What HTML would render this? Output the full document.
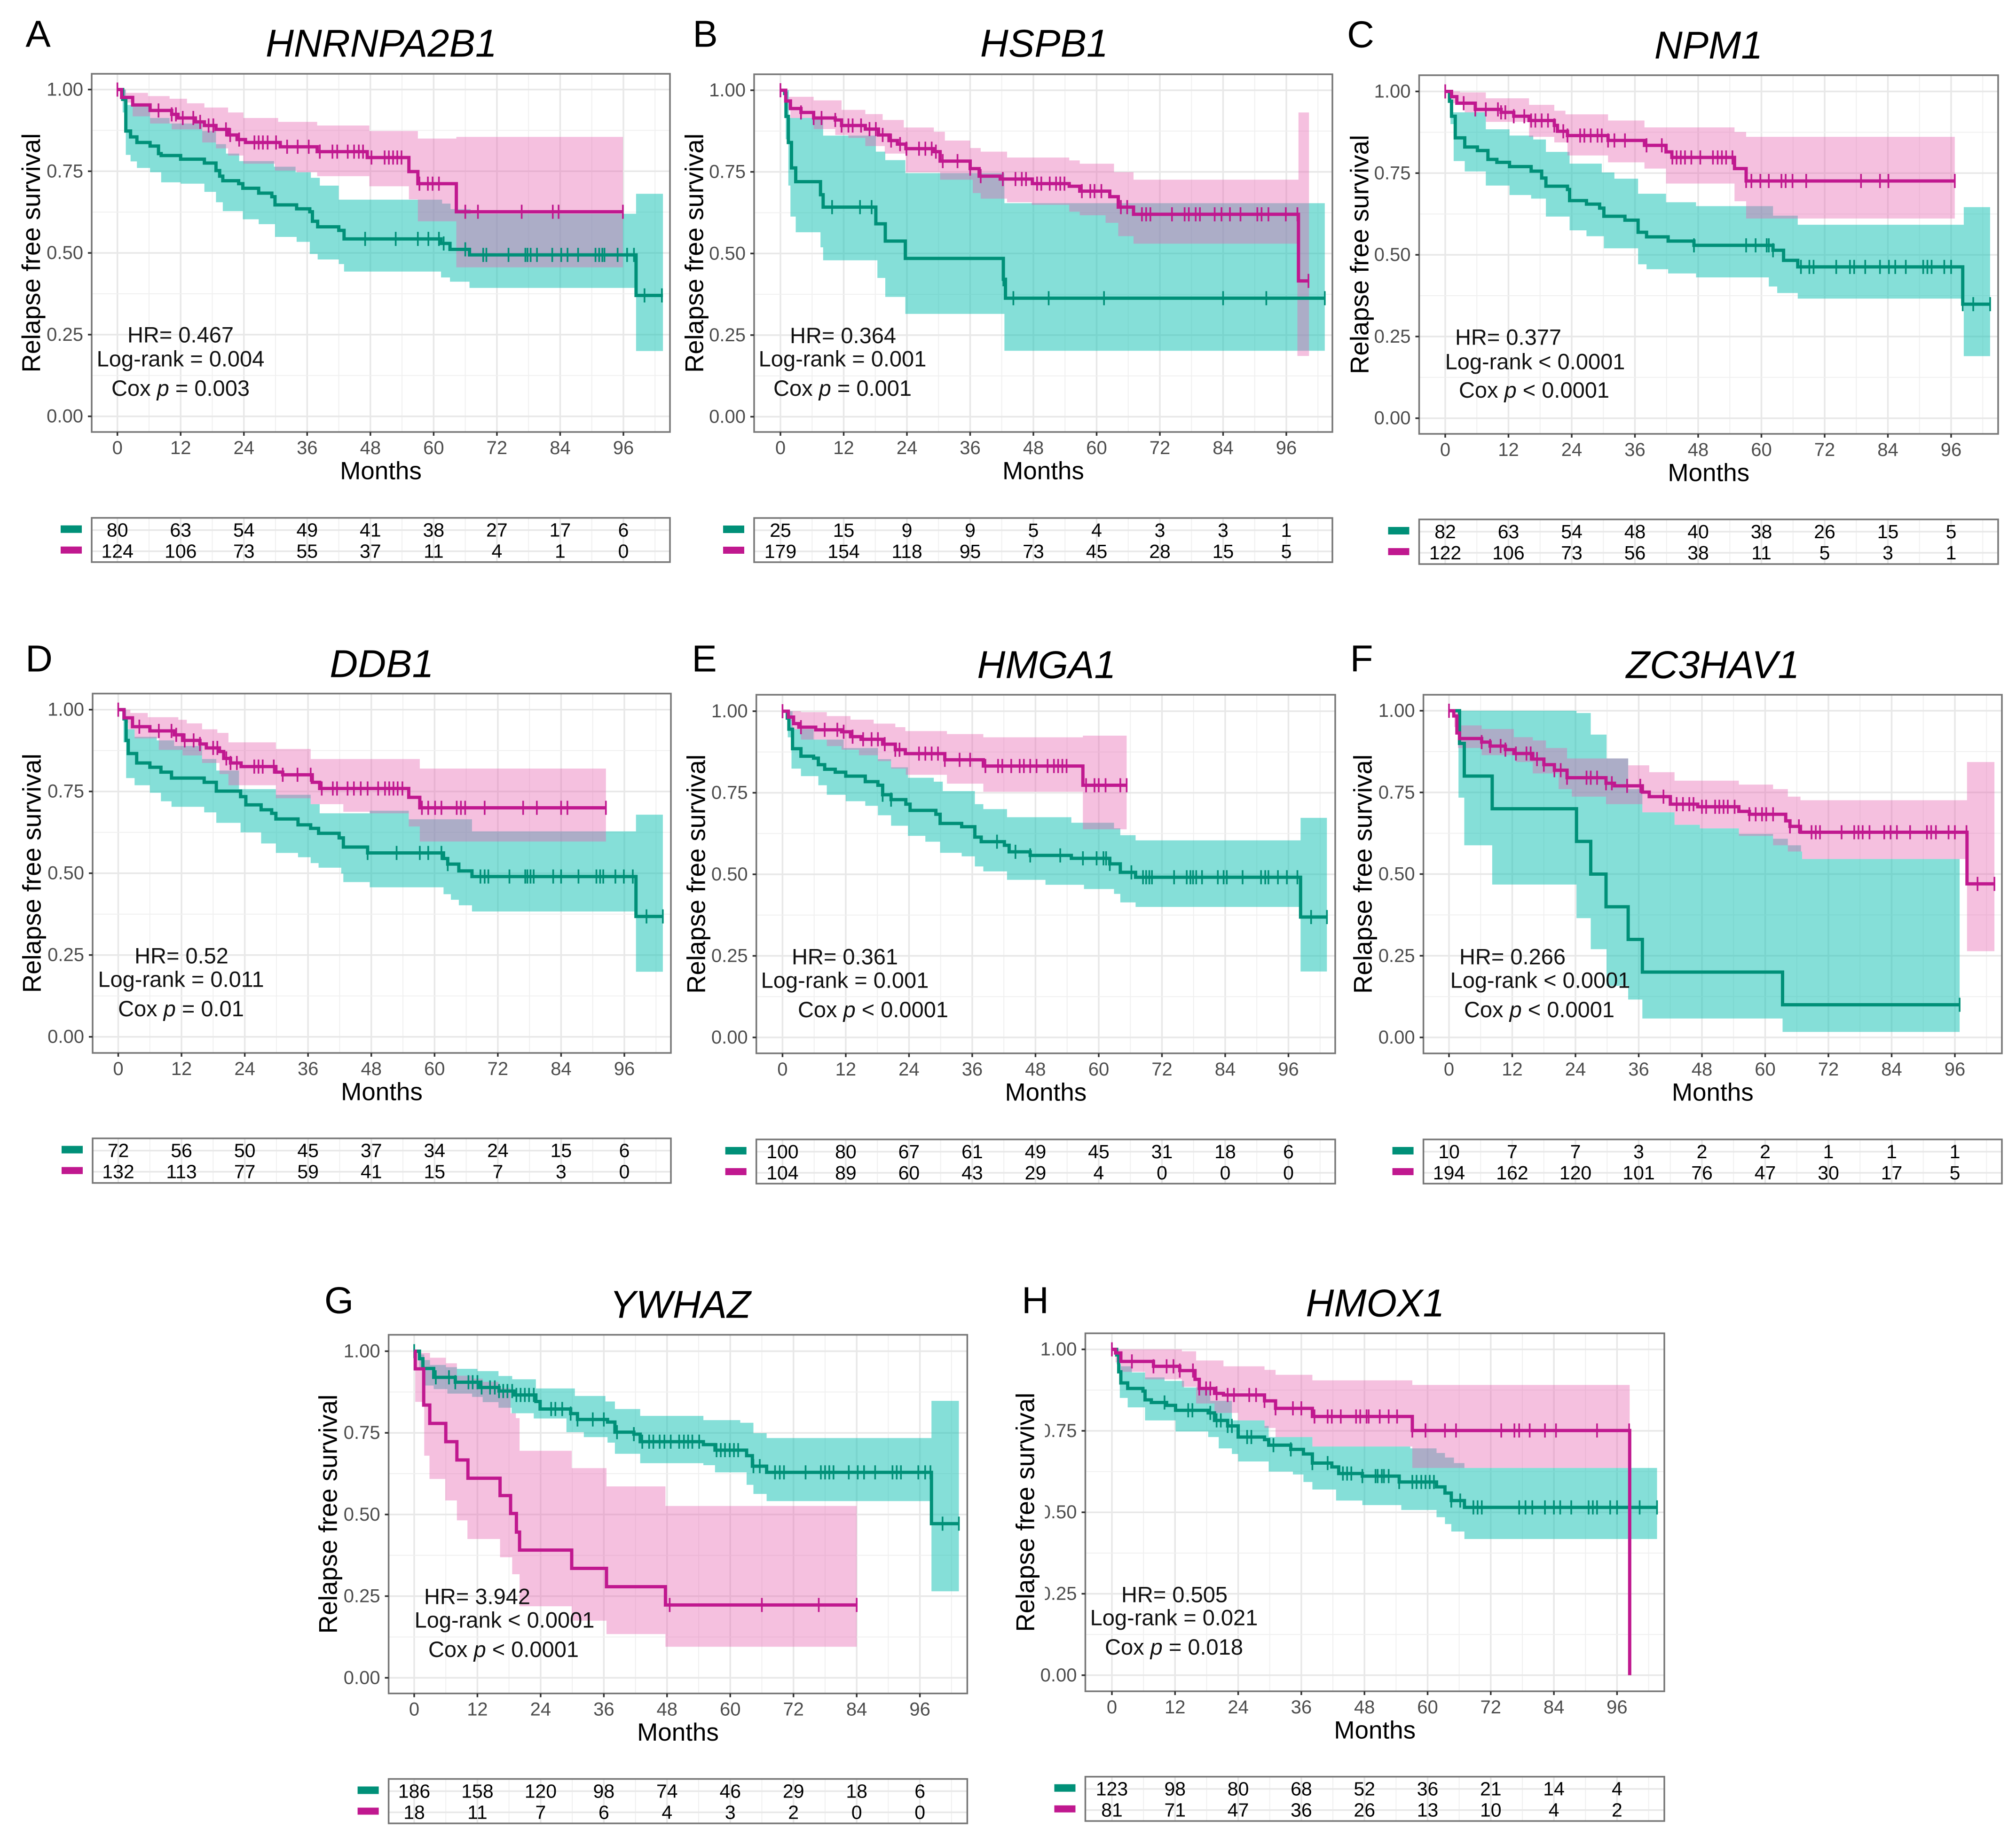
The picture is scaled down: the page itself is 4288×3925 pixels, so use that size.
<!DOCTYPE html>
<html lang="en">
<head>
<meta charset="utf-8">
<title>Kaplan-Meier relapse free survival panels</title>
<style>
html,body{margin:0;padding:0;background:#fff;}
svg{display:block;font-family:"Liberation Sans",Arial,sans-serif;}
</style>
</head>
<body>
<svg id="figure" xmlns="http://www.w3.org/2000/svg" width="4288" height="3925" viewBox="0 0 4288 3925"></svg>
<script>
// ---------- shared axis data ----------
const xTickLabels=[0,12,24,36,48,60,72,84,96];
const yTickLabels=['0.00','0.25','0.50','0.75','1.00'];
const genes=['HNRNPA2B1','HSPB1','NPM1','DDB1','HMGA1','ZC3HAV1','YWHAZ','HMOX1'];
const hrLabels=['HR= 0.467','HR= 0.364','HR= 0.377','HR= 0.52','HR= 0.361','HR= 0.266','HR= 3.942','HR= 0.505'];
const logrankLabels=['Log-rank = 0.004','Log-rank = 0.001','Log-rank < 0.0001','Log-rank = 0.011','Log-rank = 0.001','Log-rank < 0.0001','Log-rank < 0.0001','Log-rank = 0.021'];
const coxLabels=['= 0.003','= 0.001','< 0.0001','= 0.01','< 0.0001','< 0.0001','< 0.0001','= 0.018'];

// ---------- panel A ----------
const aTealRisk=[80,63,54,49,41,38,27,17,6];
const aPinkRisk=[124,106,73,55,37,11,4,1,0];
const aTealCurve=[[0,1],[1,.97],[1.6,.873],[2.5,.855],[3.7,.838],[6.2,.827],[7.8,.804],[8.3,.798],[12,.787],[16.5,.775],[18.7,.752],[19.4,.735],[20,.721],[23,.712],[23.8,.698],[26.8,.683],[29.3,.672],[29.9,.647],[34,.635],[36.5,.626],[37,.597],[38,.58],[42,.569],[43,.543],[61.4,.529],[63.1,.511],[66.8,.494],[98.4,.37],[103.5,.37]];
const aTealUpper=[[0,1],[1.6,.953],[6.2,.913],[9.9,.896],[16.1,.873],[18.7,.833],[20.6,.804],[23.1,.781],[29.7,.764],[33.8,.747],[36.7,.73],[38.4,.706],[42,.663],[61.6,.651],[63.2,.634],[67,.62],[98.4,.681],[103.5,.681]];
const aTealLower=[[0,1],[1,.93],[1.6,.8],[2.5,.78],[3.7,.76],[6.2,.747],[8.3,.716],[12,.712],[16.5,.687],[18.7,.655],[20,.628],[23.8,.603],[26.8,.588],[29.9,.549],[34,.534],[36.5,.497],[38,.48],[42,.466],[43,.443],[61.4,.425],[63.1,.412],[66.8,.393],[98.4,.2],[103.5,.2]];
const aTealCensor=[47,52.8,57,59,61,61.9,66,69.4,70,74.2,77.4,77.8,78.4,79.6,82.5,84.2,85.4,87.4,90.7,91.4,92,92.4,94.9,96.7,98,100,103.3];
const aPinkCurve=[[0,1],[.8,.976],[2.9,.953],[6.2,.936],[10.3,.924],[11.5,.913],[14.8,.901],[16.5,.89],[18.7,.878],[21,.861],[22.7,.847],[24.3,.838],[30.9,.825],[37.9,.81],[47.4,.792],[55.3,.749],[57,.712],[64.3,.626],[95.9,.626]];
const aPinkUpper=[[0,1],[1.6,.99],[5.8,.98],[9.9,.972],[13.2,.958],[16.5,.945],[21,.93],[23.9,.913],[30.5,.901],[37.9,.89],[47.8,.873],[57,.85],[64.3,.855],[95.9,.855]];
const aPinkLower=[[0,1],[1.2,.96],[2.9,.918],[6.2,.896],[10.3,.878],[16.1,.838],[18.7,.82],[21,.798],[23.9,.773],[29.9,.752],[34,.747],[37.9,.735],[47.8,.704],[55.3,.664],[57,.597],[64.3,.456],[95.9,.456]];
const aPinkCensor=[0,7.8,10.3,11.1,12.4,14.4,15.7,17.3,18.2,20.6,21.4,23.1,26,26.8,27.6,28.5,30.1,32.2,34.2,36.3,38.4,40.8,41.7,43.7,44.9,45.8,46.6,48.2,50.7,51.5,52.3,53.1,53.9,57.3,58.9,59.8,61,66,68.4,76.7,82.6,83.7,95.9];

// ---------- panel B ----------
const bTealRisk=[25,15,9,9,5,4,3,3,1];
const bPinkRisk=[179,154,118,95,73,45,28,15,5];
const bTealCurve=[[0,1],[.8,.99],[1.05,.92],[1.5,.84],[2.1,.762],[2.9,.72],[7.6,.68],[8.1,.642],[18.1,.591],[19.9,.538],[23.7,.485],[42.3,.421],[42.7,.363],[103.3,.363]];
const bTealUpper=[[0,1],[1.6,.915],[8.1,.861],[18.1,.812],[19.9,.786],[23.7,.746],[42.5,.654],[103.3,.654]];
const bTealLower=[[0,1],[1,.85],[1.5,.708],[1.9,.613],[2.9,.565],[7.6,.519],[8.1,.479],[18.4,.425],[19.9,.367],[23.7,.315],[42.5,.202],[103.3,.202]];
const bTealCensor=[9.8,15.1,17.3,42.3,44.2,50.9,61.4,84,92.2,103.3];
const bPinkCurve=[[0,1],[1,.967],[1.9,.944],[3.9,.932],[6.3,.915],[10.4,.909],[11.6,.892],[16.1,.881],[18.6,.863],[20.6,.846],[22.2,.835],[23.8,.821],[29.1,.812],[30.3,.783],[36,.76],[37.7,.737],[41.7,.728],[47.8,.714],[54.8,.706],[56.8,.691],[62.5,.674],[64.1,.642],[67,.62],[98.3,.416],[100.3,.416]];
const bPinkUpper=[[0,1],[1.5,.98],[6.3,.969],[11.6,.94],[16.1,.927],[19.4,.909],[23.4,.886],[29.1,.873],[31.2,.846],[36,.823],[38,.812],[43,.794],[54.8,.785],[56.8,.775],[63.3,.749],[67,.726],[98.3,.932],[100.3,.932]];
const bPinkLower=[[0,1],[1.5,.944],[1.9,.915],[6.3,.881],[10.4,.863],[12.9,.854],[16.1,.829],[19.8,.806],[23.8,.749],[30.3,.726],[36.5,.685],[38,.668],[43,.657],[47.7,.649],[54.8,.628],[56.8,.617],[61.7,.594],[64.1,.553],[67,.53],[98.1,.186],[100.3,.186]];
const bPinkCensor=[0,3.9,6.3,7.8,10.4,11.6,12.9,13.7,15.3,16.9,18.1,19.4,21,22.7,23.9,26.3,27.5,28.7,29.5,30.8,33.6,36,38,42.2,44.6,45.8,46.6,48.7,49.5,51.1,52.3,53.1,53.9,57.2,58.8,59.6,60.9,64.6,65.8,68.6,69.4,70.2,74.3,76.7,77.5,78.8,79.6,82.4,83.7,85.3,87.3,90.5,91.3,92.6,95.9,98.1,100.2];

// ---------- panel C ----------
const cTealRisk=[82,63,54,48,40,38,26,15,5];
const cPinkRisk=[122,106,73,56,38,11,5,3,1];
const cTealCurve=[[0,1],[.8,.97],[1.2,.924],[1.9,.858],[3.7,.83],[6.1,.819],[8.1,.792],[9.8,.783],[12.2,.77],[16.3,.756],[18.3,.735],[19.1,.71],[23.2,.7],[23.6,.666],[26.8,.655],[29.3,.643],[30.1,.618],[34.1,.606],[36.6,.569],[38.2,.555],[42.3,.542],[47.2,.529],[62.2,.514],[64.2,.483],[66.9,.463],[98.2,.349],[103.4,.349]];
const cTealUpper=[[0,1],[1.2,.936],[7.7,.884],[12.2,.865],[16.7,.853],[19.1,.815],[23.6,.779],[29.7,.752],[32.1,.733],[36.6,.687],[41.9,.661],[47.6,.649],[62.2,.62],[66.9,.592],[98.4,.646],[103.4,.646]];
const cTealLower=[[0,1],[1,.9],[1.6,.787],[3.7,.755],[7.7,.712],[12.2,.683],[16.3,.672],[19.1,.617],[23.6,.575],[26.8,.557],[30.1,.52],[36.6,.471],[38.2,.456],[42.3,.443],[47.6,.431],[61.4,.403],[63,.383],[66.9,.366],[98.4,.19],[103.4,.19]];
const cTealCensor=[47.2,57.1,58.9,61,61.4,62.2,67.5,69.1,69.9,74.2,76.8,77.6,79.7,82.5,84.2,85.4,87.4,90.7,91.5,92.3,94.7,96,98.2,100.2,103.4];
const cPinkCurve=[[0,1],[1.2,.984],[2.2,.964],[5.7,.945],[10.6,.936],[13,.924],[15.9,.911],[20.7,.896],[21.3,.878],[23.2,.865],[30.9,.85],[37.8,.835],[41.9,.815],[43,.798],[54.9,.764],[57.1,.726],[96.7,.726]];
const cPinkUpper=[[0,1],[2.8,.997],[7.7,.979],[15.9,.959],[20.7,.941],[22.8,.93],[30.9,.911],[37.8,.89],[54.9,.876],[57.1,.861],[96.7,.861]];
const cPinkLower=[[0,1],[1.2,.964],[3.7,.936],[7.7,.907],[15.9,.861],[20.7,.844],[23.2,.804],[30.9,.783],[37.8,.764],[41.9,.718],[54.9,.664],[57.1,.611],[96.7,.611]];
const cPinkCensor=[0,3.5,5.7,7.7,10,10.6,11.4,13,15,16.3,17.1,18.3,19.5,20.7,22.4,23.2,25.6,26.4,27.6,28.9,29.7,30.9,32.1,34.1,38.2,41.1,43.1,43.9,44.7,45.5,46.7,48.4,50.8,51.7,52.5,53.3,54.5,57.1,58.1,59.8,61.4,63.8,64.6,65.9,68.5,78.9,82.5,84.1,96.7];

// ---------- panel D ----------
const dTealRisk=[72,56,50,45,37,34,24,15,6];
const dPinkRisk=[132,113,77,59,41,15,7,3,0];
const dTealCurve=[[0,1],[1.1,.972],[1.5,.906],[1.9,.866],[3.5,.837],[6,.824],[8.1,.809],[10.1,.791],[16.3,.778],[18.6,.751],[23.2,.734],[24.2,.709],[27.1,.694],[29.1,.683],[29.9,.666],[34.1,.648],[36.5,.637],[38,.622],[41.9,.608],[42.7,.58],[47.3,.562],[61.7,.545],[62.5,.528],[64.6,.507],[67.1,.49],[98.2,.368],[103.3,.368]];
const dTealUpper=[[0,1],[1.5,.94],[3.1,.917],[7.3,.906],[10.6,.889],[15.9,.849],[18.6,.814],[22.9,.757],[29.9,.74],[36.5,.711],[38.2,.683],[47.7,.691],[55.1,.665],[67.1,.628],[98.2,.679],[103.3,.679]];
const dTealLower=[[0,1],[1,.9],[1.5,.791],[3.1,.769],[6,.746],[8.1,.72],[10.1,.703],[16.3,.686],[18.6,.654],[23.2,.625],[27.1,.591],[29.9,.562],[34.1,.549],[36.5,.531],[38,.517],[42.3,.499],[42.7,.473],[47.7,.457],[61.7,.436],[63.1,.419],[64.6,.402],[67.1,.383],[98.2,.199],[103.3,.199]];
const dTealCensor=[47.3,52.8,57.2,58.8,61.3,62.5,68.7,69.5,70.2,74.2,77.2,77.6,78.2,78.8,82.5,84,87.3,90.7,91.4,92,94.3,95.9,97.6,100.2,103.3];
const dPinkCurve=[[0,1],[1.1,.975],[2.7,.948],[6,.935],[10.6,.923],[12.2,.906],[15.5,.895],[16.7,.883],[19.2,.872],[20,.851],[21.3,.837],[23.3,.826],[29.9,.809],[31.2,.801],[36.8,.778],[38.2,.759],[55.1,.732],[57.2,.7],[92.5,.7]];
const dPinkUpper=[[0,1],[2.3,.99],[5.6,.977],[11.4,.969],[13,.958],[15.9,.94],[18.8,.929],[20.9,.9],[29.9,.88],[36.5,.849],[57.2,.82],[92.5,.82]];
const dPinkLower=[[0,1],[1.2,.96],[1.9,.94],[3.1,.912],[7.7,.877],[12.2,.86],[15.9,.837],[19.2,.803],[20.9,.769],[29.9,.729],[36.5,.711],[42.7,.688],[47.7,.683],[55.1,.643],[57.2,.597],[92.5,.597]];
const dPinkCensor=[0,4,7.7,10.1,11,12.6,14.3,15.5,18,18.8,20.5,21.3,22.5,25.8,26.6,27.4,29.5,31.2,34,36.5,38.6,40.7,41.5,43.5,44.7,46,47.3,49.3,50.6,51.4,52.2,53,53.9,57.6,58.8,60.1,61.3,64.2,65,65.8,69.5,76.8,79.4,84,85.2,92.5];

// ---------- panel E ----------
const eTealRisk=[100,80,67,61,49,45,31,18,6];
const ePinkRisk=[104,89,60,43,29,4,0,0,0];
const eTealCurve=[[0,1],[.9,.979],[1.2,.945],[1.9,.885],[3.5,.862],[5.9,.856],[6.8,.836],[8,.822],[10,.813],[12,.801],[15.7,.784],[18.1,.773],[19,.744],[20.6,.729],[23.4,.715],[24.2,.696],[29.1,.684],[29.9,.656],[34,.646],[36.5,.614],[37.7,.6],[42.1,.589],[43,.569],[47,.558],[54.8,.549],[62.1,.532],[64.1,.506],[67,.491],[98.3,.369],[103.3,.369]];
const eTealUpper=[[0,1],[1.9,.945],[5.9,.913],[11.6,.887],[18.1,.853],[20.6,.828],[23.8,.796],[28.7,.784],[30.4,.755],[36.5,.715],[38.1,.7],[42.6,.675],[54.8,.658],[62.9,.641],[64.1,.62],[67,.604],[98.3,.673],[103.3,.673]];
const eTealLower=[[0,1],[1,.92],[1.7,.824],[3.5,.801],[6.8,.773],[8.4,.744],[12,.724],[15.7,.71],[18.1,.681],[20.6,.649],[23.8,.618],[27.1,.6],[29.9,.566],[34,.555],[36.5,.524],[38.1,.509],[42.6,.483],[49.9,.468],[57.2,.455],[62.9,.44],[64.1,.414],[67,.4],[98.3,.202],[103.3,.202]];
const eTealCensor=[19,20.6,40.7,44.2,47,52.7,57,59.6,60.9,61.4,62.1,66.2,68.4,69,69.6,70.1,74.3,76.7,77.4,77.9,78.5,79.6,82.6,83.7,84.3,87.3,90.8,91.6,92.2,94,95.7,97.7,100.3,103.3];
const ePinkCurve=[[0,1],[1.1,.982],[2.1,.962],[3.1,.951],[6.3,.943],[11.2,.937],[12.9,.922],[14.9,.914],[19,.899],[21.4,.882],[23.3,.87],[30.8,.851],[38.1,.832],[57,.773],[65.3,.773]];
const ePinkUpper=[[0,1],[3.5,.997],[8.4,.985],[12.9,.974],[17.3,.962],[21.4,.951],[23.3,.939],[31.2,.93],[38.1,.92],[57,.925],[65.3,.925]];
const ePinkLower=[[0,1],[1,.97],[1.7,.945],[3.5,.913],[8.4,.893],[11.2,.882],[14.5,.865],[18.1,.847],[20.6,.824],[23.4,.805],[31.2,.778],[38.1,.753],[57,.638],[65.3,.638]];
const ePinkCensor=[0,3.5,8,10.4,11.6,13.3,15.3,16.9,18.1,19.4,21.4,22.2,25.9,27.1,28.3,29.5,30.8,33.6,35.6,38.5,40.9,41.7,43.4,45,45.8,47,48.2,50.3,51.5,52.3,53.1,53.9,57.6,59.2,60,61.3,64.1,65.3];

// ---------- panel F ----------
const fTealRisk=[10,7,7,3,2,2,1,1,1];
const fPinkRisk=[194,162,120,101,76,47,30,17,5];
const fTealCurve=[[0,1],[2,.9],[2.9,.8],[8.2,.7],[24.2,.6],[26.9,.5],[29.8,.4],[34,.3],[36.7,.2],[63.3,.1],[96.9,.1]];
const fTealUpper=[[0,1],[24.2,.993],[26.9,.927],[29.9,.854],[34,.76],[36.7,.689],[42.8,.651],[47.6,.64],[55,.623],[61.5,.608],[64.3,.588],[66.8,.569],[67,.546],[96.9,.546]];
const fTealLower=[[0,1],[1.8,.734],[2.9,.588],[8.2,.468],[24.2,.365],[26.9,.27],[29.9,.158],[34,.116],[36.7,.058],[63.3,.017],[96.9,.017]];
const fTealCensor=[96.9];
const fPinkCurve=[[0,1],[.9,.984],[1.5,.932],[2,.915],[6.2,.904],[7.8,.892],[10.7,.881],[12.3,.869],[15.9,.852],[18,.835],[20,.818],[22.4,.795],[29.8,.778],[31.4,.77],[36.7,.751],[38,.737],[42,.714],[47.2,.706],[55,.692],[57,.683],[63.9,.663],[64.7,.646],[66.7,.628],[98.3,.47],[103.5,.47]];
const fPinkUpper=[[0,1],[2.1,.955],[6.2,.944],[12.3,.919],[15.9,.909],[18.4,.886],[22.4,.854],[34,.833],[38,.812],[42.8,.786],[55,.774],[61.5,.76],[64.3,.737],[66.7,.726],[98.3,.843],[103.5,.843]];
const fPinkLower=[[0,1],[1,.95],[1.7,.886],[6.2,.864],[12.7,.843],[15.9,.808],[20.8,.76],[23.3,.737],[29.8,.714],[36.7,.689],[42.8,.651],[47.6,.64],[55,.617],[61.5,.588],[64.3,.569],[67,.546],[98.3,.264],[103.5,.264]];
const fPinkCensor=[0,6.2,7.8,9.8,10.7,12.7,14.7,15.5,16.7,18,20,21.2,22.4,26.1,26.9,28.1,29.8,30.9,33.8,36.3,40.7,43.2,44.4,45.6,46.4,48,48.8,50.5,51.3,52.1,52.9,54.2,57,58.2,59.4,60.2,61.5,64.7,66.4,68.8,69.6,70.4,74.5,76.9,77.7,78.5,79.8,82.6,83.8,85,87.5,90.7,91.5,92.4,94.8,96,98.2,100.3,103.5];

// ---------- panel G ----------
const gTealRisk=[186,158,120,98,74,46,29,18,6];
const gPinkRisk=[18,11,7,6,4,3,2,0,0];
const gTealCurve=[[0,1],[1,.977],[1.65,.947],[3.7,.92],[7.8,.905],[12.4,.889],[16.1,.878],[19,.866],[23.1,.846],[23.9,.823],[29.7,.809],[31,.791],[36.7,.783],[38.1,.752],[41.7,.746],[42.9,.723],[54.9,.714],[57.1,.697],[63.1,.68],[64.2,.648],[66.9,.629],[98.2,.472],[103.4,.472]];
const gTealUpper=[[0,1],[1.2,.99],[1.9,.973],[3,.958],[6,.951],[8.1,.946],[12,.939],[16,.924],[18.6,.914],[23.1,.886],[30.5,.863],[36.3,.846],[38.1,.823],[42.9,.802],[54.9,.789],[61.9,.781],[64.4,.749],[66.9,.734],[98.2,.848],[103.4,.848]];
const gTealLower=[[0,1],[1,.95],[2,.895],[3.7,.884],[6.3,.87],[11,.86],[13,.844],[16,.827],[18.5,.81],[22.7,.794],[28.9,.752],[32.2,.737],[36.7,.72],[38.1,.686],[42.9,.657],[54.9,.651],[57.1,.629],[63.1,.591],[64.4,.563],[66.9,.541],[98.2,.265],[103.4,.265]];
const gTealCensor=[0,4.1,6.6,7.8,10.3,11.1,12,12.8,14.4,15.3,16.1,16.9,17.7,18.6,19.4,20.2,21,21.8,22.7,26,26.8,28.1,29.7,31,33.9,36,38.5,41.7,43.3,44.6,45.4,46.6,47.5,48.7,50.3,51.2,52,52.8,54.1,57.4,58.2,59,59.9,60.7,61.5,64.4,65.6,68.5,69.4,70.2,74.3,77.2,78,78.8,79.6,82.5,84.2,85.4,87.5,90.8,91.6,92.4,95.7,97,98,100.3,103.4];
const gPinkCurve=[[0,1],[.2,.946],[1.8,.835],[2.95,.779],[6,.723],[8.1,.667],[10.2,.611],[16.3,.558],[18.3,.503],[19.4,.446],[20,.391],[29.9,.335],[36.5,.279],[47.7,.223],[84,.223]];
const gPinkUpper=[[0,.995],[3,.98],[6,.963],[8.1,.925],[10.9,.916],[13,.906],[16,.887],[18.3,.81],[19.3,.795],[20,.695],[29.9,.642],[36.5,.586],[47.7,.526],[84,.526]];
const gPinkLower=[[0,.995],[.2,.845],[1.9,.68],[2.9,.609],[5.9,.543],[8.1,.482],[10.1,.425],[16.3,.369],[18.6,.317],[20,.219],[29.9,.175],[36.5,.134],[47.7,.095],[84,.095]];
const gPinkCensor=[48.5,66,76.8,84];

// ---------- panel H ----------
const hTealRisk=[123,98,80,68,52,36,21,14,4];
const hPinkRisk=[81,71,47,36,26,13,10,4,2];
const hTealCurve=[[0,1],[.9,.983],[1.3,.931],[1.7,.897],[3,.88],[5.9,.872],[6.3,.845],[7.5,.837],[10.4,.828],[12.1,.813],[18.3,.805],[19.5,.782],[22,.765],[24,.731],[29,.723],[29.8,.706],[34,.693],[36.4,.679],[38.1,.651],[41.8,.639],[43.1,.619],[47.6,.611],[54.6,.593],[61.7,.578],[63.3,.559],[64.5,.536],[67,.515],[103.6,.515]];
const hTealUpper=[[0,1],[.9,.954],[1.7,.948],[3.8,.929],[6.3,.914],[10,.903],[13.7,.883],[18.7,.842],[22.8,.782],[29,.765],[29.8,.731],[38.1,.702],[56.7,.696],[61.7,.682],[63.3,.668],[65,.651],[67,.636],[103.6,.636]];
const hTealLower=[[0,1],[1,.93],[1.5,.851],[3,.822],[6.3,.782],[12.1,.748],[18.3,.731],[20.3,.696],[22.8,.679],[24,.656],[29.8,.625],[34.4,.616],[36.4,.593],[38.1,.57],[42.6,.536],[47.6,.522],[55,.507],[61.7,.485],[63.3,.464],[64.5,.441],[67,.418],[103.6,.418]];
const hTealCensor=[10,14.5,15.3,18.7,19.9,20.7,22,22.8,25.7,26.5,30.7,34,38.1,41,43.9,44.7,45.5,47.6,50.1,50.5,51.3,51.7,52.6,54.6,57.1,57.9,58.8,59.6,60.4,61.2,64.5,66.2,68.7,69.5,70.3,77.4,78.6,79.9,82.3,84,85.2,87.3,90.6,91.4,92.2,94.7,96,98.4,100.3,103.6];
const hPinkCurve=[[0,1],[.7,.989],[1.7,.963],[7.9,.948],[12.9,.935],[15.8,.908],[16.6,.88],[19.5,.865],[21.2,.86],[29,.842],[31.1,.819],[38.1,.794],[57.1,.751],[98.4,0],[98.4,0]];
const hPinkUpper=[[0,1],[13.3,.994],[16,.966],[21.2,.948],[29,.937],[31.1,.922],[38.1,.905],[57.1,.891],[98.4,.891]];
const hPinkLower=[[0,1],[.7,.96],[1.7,.931],[6.3,.908],[13.3,.885],[16,.834],[19.5,.805],[24,.782],[29,.759],[31.1,.731],[38.1,.702],[57.1,.636],[98.4,.636]];
const hPinkCensor=[0,3.8,7.9,10.4,11.7,12.9,15.4,16.6,17.9,18.7,19.9,22,23.2,26.1,27.4,29,31.1,34.4,36,38.5,41,41.8,43.5,46.4,47.2,48.4,48.8,50.9,52.6,54.2,57.1,59.6,63.3,65.4,74,76.5,77.4,79.4,82.3,84.4,92.2,98.3];

// ---------- link data with layout ----------
const seriesByPanel=[
 {tc:aTealCurve,tu:aTealUpper,tl:aTealLower,ts:aTealCensor,tr:aTealRisk,pc:aPinkCurve,pu:aPinkUpper,pl:aPinkLower,ps:aPinkCensor,pr:aPinkRisk},
 {tc:bTealCurve,tu:bTealUpper,tl:bTealLower,ts:bTealCensor,tr:bTealRisk,pc:bPinkCurve,pu:bPinkUpper,pl:bPinkLower,ps:bPinkCensor,pr:bPinkRisk},
 {tc:cTealCurve,tu:cTealUpper,tl:cTealLower,ts:cTealCensor,tr:cTealRisk,pc:cPinkCurve,pu:cPinkUpper,pl:cPinkLower,ps:cPinkCensor,pr:cPinkRisk},
 {tc:dTealCurve,tu:dTealUpper,tl:dTealLower,ts:dTealCensor,tr:dTealRisk,pc:dPinkCurve,pu:dPinkUpper,pl:dPinkLower,ps:dPinkCensor,pr:dPinkRisk},
 {tc:eTealCurve,tu:eTealUpper,tl:eTealLower,ts:eTealCensor,tr:eTealRisk,pc:ePinkCurve,pu:ePinkUpper,pl:ePinkLower,ps:ePinkCensor,pr:ePinkRisk},
 {tc:fTealCurve,tu:fTealUpper,tl:fTealLower,ts:fTealCensor,tr:fTealRisk,pc:fPinkCurve,pu:fPinkUpper,pl:fPinkLower,ps:fPinkCensor,pr:fPinkRisk},
 {tc:gTealCurve,tu:gTealUpper,tl:gTealLower,ts:gTealCensor,tr:gTealRisk,pc:gPinkCurve,pu:gPinkUpper,pl:gPinkLower,ps:gPinkCensor,pr:gPinkRisk},
 {tc:hTealCurve,tu:hTealUpper,tl:hTealLower,ts:hTealCensor,tr:hTealRisk,pc:hPinkCurve,pu:hPinkUpper,pl:hPinkLower,ps:hPinkCensor,pr:hPinkRisk}
];
const panelLetters=['A','B','C','D','E','F','G','H'];
const layouts=[
 {l:195,r:1425,t:157,b:919,x0:249.7,x96:1326,y1:190.5,y0:885.7,tt:1101.7,tb:1195.8,yt:66.6,tx:811,ty:92,lx:81,ly:72,hr:[384,712],lr:[384,763],cx:[384,825]},
 {l:1604,r:2834,t:158,b:919,x0:1660,x96:2736,y1:192,y0:886.5,tt:1102,tb:1196,yt:1477,tx:2221,ty:92,lx:1500,ly:72,hr:[1793,713.5],lr:[1792,763],cx:[1792,825]},
 {l:3018.5,r:4250,t:160,b:923,x0:3074,x96:4150,y1:194.5,y0:889.7,tt:1105,tb:1200,yt:2892,tx:3634,ty:96,lx:2894,ly:73,hr:[3208,717],lr:[3265,769],cx:[3263,829]},
 {l:197,r:1427,t:1475.5,b:2240,x0:251.5,x96:1328,y1:1509.7,y0:2205.7,tt:2421.7,tb:2516.6,yt:68,tx:812,ty:1412,lx:83,ly:1401,hr:[386,2033],lr:[385,2083],cx:[385,2145]},
 {l:1608.7,r:2840,t:1478,b:2240.8,x0:1664.4,x96:2740.5,y1:1513,y0:2207,tt:2424,tb:2518,yt:1481,tx:2226,ty:1414,lx:1498,ly:1401,hr:[1797,2035],lr:[1797,2085],cx:[1857,2147]},
 {l:3027.6,r:4258,t:1478,b:2241,x0:3082,x96:4158,y1:1512,y0:2207,tt:2424,tb:2518,yt:2899,tx:3643,ty:1414,lx:2896,ly:1401,hr:[3217,2035],lr:[3276,2085],cx:[3274,2147]},
 {l:826.6,r:2057.4,t:2839.6,b:3602.6,x0:881,x96:1956.6,y1:2874.5,y0:3569.3,tt:3784.5,tb:3879,yt:698,tx:1447,ty:2775,lx:721,ly:2766,hr:[1015,3396],lr:[1073,3446],cx:[1071,3508]},
 {l:2308.5,r:3540,t:2836.4,b:3598,x0:2365,x96:3439.4,y1:2870.6,y0:3563.8,tt:3779.7,tb:3874,yt:2181,tx:2925,ty:2772,lx:2202,ly:2766,hr:[2498,3392],lr:[2497,3441],cx:[2497,3503],clip:true}
];
const TEAL_LINE='#009078',PINK_LINE='#c0188f';
const TEAL_BAND='#0bbfb1',PINK_BAND='#e661af';
const NS='http://www.w3.org/2000/svg';
const fig=document.getElementById('figure');

function mk(tag,attrs,parent,txt){
  const e=document.createElementNS(NS,tag);
  for(const k in attrs)e.setAttribute(k,attrs[k]);
  if(txt!==undefined)e.textContent=txt;
  parent.appendChild(e);
  return e;
}
function stepLine(pts,x,y){
  let d='M'+x(pts[0][0]).toFixed(1)+' '+y(pts[0][1]).toFixed(1);
  for(let i=1;i<pts.length;i++){
    d+='H'+x(pts[i][0]).toFixed(1)+'V'+y(pts[i][1]).toFixed(1);
  }
  return d;
}
function stepBand(up,lo,x,y){
  let d=stepLine(up,x,y);
  const n=lo.length-1;
  d+='L'+x(lo[n][0]).toFixed(1)+' '+y(lo[n][1]).toFixed(1);
  for(let i=n;i>0;i--){
    d+='H'+x(lo[i][0]).toFixed(1)+'V'+y(lo[i-1][1]).toFixed(1);
  }
  d+='H'+x(lo[0][0]).toFixed(1)+'Z';
  return d;
}
function valueAt(pts,t){
  let v=pts[0][1];
  for(const p of pts){ if(p[0]<=t) v=p[1]; else break; }
  return v;
}
function drawGrid(g,L,x,yPositions,yMinor,top,bot){
  xTickLabels.forEach(function(m){
    const a=mk('line',{x1:x(m),x2:x(m),y1:top,y2:bot,stroke:'#e8e8e8','stroke-width':3.5},g);
    
    
    const b=mk('line',{x1:x(m+6),x2:x(m+6),y1:top,y2:bot,stroke:'#f0f0f0','stroke-width':2},g);
    
    
  });
  yMinor.forEach(function(v){
    const a=mk('line',{x1:L.l,x2:L.r,y1:v,y2:v,stroke:'#f0f0f0','stroke-width':2},g);
    
    
  });
  yPositions.forEach(function(v){
    const a=mk('line',{x1:L.l,x2:L.r,y1:v,y2:v,stroke:'#e8e8e8','stroke-width':3.5},g);
    
    
  });
}
function drawCensors(g,times,curve,x,y,color,name){
  times.forEach(function(t){
    const v=valueAt(curve,t);
    const c=mk('line',{x1:x(t),x2:x(t),y1:y(v)-15,y2:y(v)+15,stroke:color,'stroke-width':3.6},g);
    
    
  });
}

layouts.forEach(function(L,i){
  const S=seriesByPanel[i];
  const letter=panelLetters[i];
  const x=function(m){return L.x0+(L.x96-L.x0)*m/96;};
  const y=function(s){return L.y0+(L.y1-L.y0)*s;};

  const g=mk('g',{},fig);
  
  

  const lt=mk('text',{x:L.lx,y:L.ly,'font-size':80,'text-anchor':'middle','dominant-baseline':'central',fill:'#000'},g,letter);
  
  

  const tt=mk('text',{x:L.tx,y:L.ty,'font-size':83,'font-style':'italic','text-anchor':'middle','dominant-baseline':'central',fill:'#000'},g,genes[i]);
  
  

  // plot background and grid
  const bg=mk('rect',{x:L.l,y:L.t,width:L.r-L.l,height:L.b-L.t,fill:'#fff'},g);
  
  
  const majorY=yTickLabels.map(function(s){return y(parseFloat(s));});
  const minorY=yTickLabels.slice(1).map(function(s){return y(parseFloat(s)-0.125);});
  drawGrid(g,L,x,majorY,minorY,L.t,L.b);

  // confidence bands
  const tb=mk('path',{d:stepBand(S.tu,S.tl,x,y),fill:TEAL_BAND,'fill-opacity':0.5},g);
  
  
  const pb=mk('path',{d:stepBand(S.pu,S.pl,x,y),fill:PINK_BAND,'fill-opacity':0.4},g);
  
  

  // survival curves
  const tl=mk('path',{d:stepLine(S.tc,x,y),fill:'none',stroke:TEAL_LINE,'stroke-width':7},g);
  
  
  drawCensors(g,S.ts,S.tc,x,y,TEAL_LINE,'censor-mark-teal');
  const pl=mk('path',{d:stepLine(S.pc,x,y),fill:'none',stroke:PINK_LINE,'stroke-width':7},g);
  
  
  drawCensors(g,S.ps,S.pc,x,y,PINK_LINE,'censor-mark-pink');

  // border
  const bd=mk('rect',{x:L.l,y:L.t,width:L.r-L.l,height:L.b-L.t,fill:'none',stroke:'#777','stroke-width':3.5},g);
  
  

  // y axis
  yTickLabels.forEach(function(lab){
    const v=parseFloat(lab);
    const tm=mk('line',{x1:L.l-8,x2:L.l,y1:y(v),y2:y(v),stroke:'#333','stroke-width':3.5},g);
    
    
    const tx=mk('text',{x:L.l-18,y:y(v),'font-size':40,'text-anchor':'end','dominant-baseline':'central',fill:'#4d4d4d'},g,lab);
    
    
  });
  if(L.clip){
    yTickLabels.slice(1,4).forEach(function(lab){
      const c=mk('rect',{x:L.l-100,y:y(parseFloat(lab))-24,width:14,height:48,fill:'#fff'},g);
      
      
    });
  }
  const cy=(L.t+L.b)/2;
  const yt=mk('text',{x:L.yt,y:cy,'font-size':54.5,'text-anchor':'middle','dominant-baseline':'central',fill:'#000',transform:'rotate(-90 '+L.yt+' '+cy+')'},g,'Relapse free survival');
  
  

  // x axis
  xTickLabels.forEach(function(m){
    const tm=mk('line',{x1:x(m),x2:x(m),y1:L.b,y2:L.b+8,stroke:'#333','stroke-width':3.5},g);
    
    
    const tx=mk('text',{x:x(m),y:L.b+34,'font-size':40,'text-anchor':'middle','dominant-baseline':'central',fill:'#4d4d4d'},g,String(m));
    
    
  });
  const xt=mk('text',{x:(L.l+L.r)/2,y:L.b+83,'font-size':53,'text-anchor':'middle','dominant-baseline':'central',fill:'#000'},g,'Months');
  
  

  // annotations
  const a1=mk('text',{x:L.hr[0],y:L.hr[1],'font-size':47,'text-anchor':'middle','dominant-baseline':'central',fill:'#111'},g,hrLabels[i]);
  
  
  const a2=mk('text',{x:L.lr[0],y:L.lr[1],'font-size':47,'text-anchor':'middle','dominant-baseline':'central',fill:'#111'},g,logrankLabels[i]);
  
  
  const a3=mk('text',{x:L.cx[0],y:L.cx[1],'font-size':47,'text-anchor':'middle','dominant-baseline':'central',fill:'#111'},g);
  
  
  mk('tspan',{},a3,'Cox ');
  mk('tspan',{'font-style':'italic'},a3,'p');
  mk('tspan',{},a3,' '+coxLabels[i]);

  // risk table
  const row1=L.tt+26, row2=L.tt+71;
  drawGrid(g,L,x,[row1,row2],[],L.tt,L.tb);
  const tbd=mk('rect',{x:L.l,y:L.tt,width:L.r-L.l,height:L.tb-L.tt,fill:'none',stroke:'#777','stroke-width':3.5},g);
  
  
  const sw1=mk('rect',{x:L.l-66,y:L.tt+16,width:45,height:16,fill:TEAL_LINE},g);
  
  
  const sw2=mk('rect',{x:L.l-66,y:L.tt+61,width:45,height:15,fill:PINK_LINE},g);
  
  
  xTickLabels.forEach(function(m,k){
    const n1=mk('text',{x:x(m),y:row1,'font-size':41,'text-anchor':'middle','dominant-baseline':'central',fill:'#000'},g,String(S.tr[k]));
    
    
    const n2=mk('text',{x:x(m),y:row2,'font-size':41,'text-anchor':'middle','dominant-baseline':'central',fill:'#000'},g,String(S.pr[k]));
    
    
  });
});
</script>
</body>
</html>
